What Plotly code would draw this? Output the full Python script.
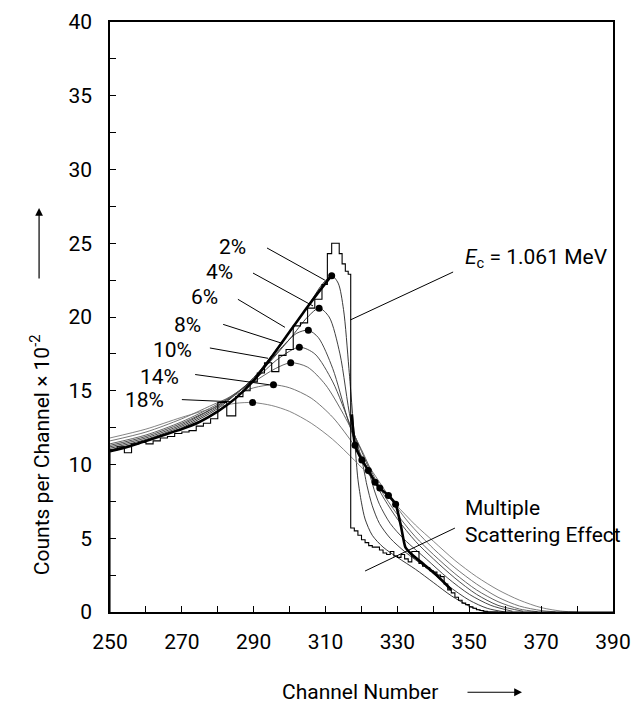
import plotly.graph_objects as go

# ---------------- data ----------------
hist_edges = [250, 252, 254, 256, 258, 260, 262, 264, 266, 268, 270, 272, 274, 276, 278, 280, 282.5, 285, 287, 289,
              291, 293, 295, 297, 299, 301, 303, 305, 307, 309, 310.5, 311.7, 313.8, 314.6, 315.5, 316.3, 317, 318,
              319, 320, 321, 322, 323, 325, 326, 327, 328, 329, 330, 331, 332, 333, 334, 336, 337, 338, 339, 340,
              341, 342, 343, 344, 345, 346, 347, 348, 349, 350, 351, 352, 353, 354, 355, 390]
hist_counts = [11.0, 11.2, 10.8, 11.4, 11.5, 11.4, 11.6, 11.8, 11.9, 12.1, 12.2, 12.3, 12.6, 12.8, 13.1, 14.2, 13.3,
               14.6, 15.0, 15.6, 16.2, 16.9, 16.3, 17.4, 17.8, 19.4, 19.6, 20.6, 21.2, 22.2, 24.3, 25.0, 24.3, 23.6,
               23.1, 22.9, 5.7, 5.5, 5.2, 4.9, 4.7, 4.5, 4.4, 4.2, 4.0, 3.9, 4.1, 3.8, 3.7, 3.9, 3.6, 3.4, 4.1, 3.3,
               3.1, 3.0, 2.8, 2.7, 2.5, 2.4, 1.9, 1.5, 1.3, 1.0, 0.8, 0.6, 0.5, 0.35, 0.25, 0.15, 0.1, 0.05, 0.0, 0.0]

fit_rise_x = [250, 255, 260, 265, 270, 275, 280, 285, 290, 295, 300, 305, 310, 311.7]
fit_rise_y = [10.9, 11.2, 11.6, 12.0, 12.4, 12.9, 13.6, 14.5, 15.7, 17.3, 19.0, 20.7, 22.3, 22.8]
fit_fall_x = [317.3, 318.2, 320.1, 321.9, 323.8, 325.1, 327.5, 329.5, 331.0, 332.2, 334, 337, 340, 343, 345]
fit_fall_y = [13.4, 11.3, 10.3, 9.6, 8.8, 8.4, 7.9, 7.3, 5.8, 4.4, 3.9, 3.3, 2.7, 2.0, 1.5]

curve_labels = ["2%", "4%", "6%", "8%", "10%", "14%", "18%"]
c2_x = [250, 260, 270, 280, 290, 300, 305, 309, 311.7, 313.5, 315, 316.5, 318.2, 319, 320, 321, 323, 326, 330, 335, 340, 345, 350, 354, 358]
c2_y = [11.0, 11.6, 12.5, 13.8, 15.9, 19.0, 20.7, 22.2, 22.8, 22.3, 20.5, 16.5, 11.3, 9.0, 7.4, 6.3, 5.2, 4.4, 3.7, 2.9, 2.0, 1.1, 0.4, 0.05, 0.0]
c4_x = [250, 260, 270, 280, 290, 300, 305, 308.2, 311, 314, 317, 320.1, 321.5, 323, 325, 328, 332, 338, 344, 350, 355, 360]
c4_y = [11.1, 11.7, 12.6, 13.9, 15.8, 18.5, 20.0, 20.6, 20.0, 17.5, 13.0, 10.3, 8.6, 7.2, 6.0, 5.0, 4.1, 3.0, 1.8, 0.8, 0.25, 0.0]
c6_x = [250, 260, 270, 280, 290, 298, 302, 305.2, 308, 312, 316, 319, 321.9, 323.5, 325, 328, 332, 338, 344, 350, 356, 362]
c6_y = [11.2, 11.8, 12.7, 14.0, 15.8, 18.0, 18.9, 19.1, 18.6, 16.5, 13.2, 11.0, 9.6, 8.3, 7.3, 6.0, 4.9, 3.6, 2.3, 1.2, 0.45, 0.05]
c8_x = [250, 260, 270, 280, 290, 297, 302.7, 307, 312, 317, 320, 323.8, 326, 330, 335, 340, 346, 352, 358, 365]
c8_y = [11.3, 11.9, 12.8, 14.0, 15.7, 17.2, 17.95, 17.5, 15.6, 12.6, 10.9, 8.8, 7.8, 6.3, 4.8, 3.6, 2.3, 1.2, 0.45, 0.05]
c10_x = [250, 260, 270, 280, 290, 296, 300.3, 305, 310, 315, 320, 325.1, 330, 335, 340, 346, 352, 358, 364, 369]
c10_y = [11.4, 12.0, 12.9, 14.1, 15.6, 16.5, 16.9, 16.6, 15.4, 13.4, 11.0, 8.4, 6.6, 5.1, 3.9, 2.6, 1.5, 0.7, 0.2, 0.02]
c14_x = [250, 260, 270, 280, 290, 295.5, 300, 306, 312, 318, 322, 327.5, 333, 340, 346, 352, 358, 364, 370, 374]
c14_y = [11.6, 12.2, 13.1, 14.2, 15.2, 15.4, 15.2, 14.5, 13.2, 11.3, 9.9, 7.9, 6.1, 4.3, 3.0, 1.9, 1.0, 0.4, 0.1, 0.01]
c18_x = [250, 260, 270, 280, 285, 289.7, 295, 300, 306, 312, 318, 324, 329.5, 335, 340, 346, 352, 358, 364, 370, 376, 380]
c18_y = [11.8, 12.4, 13.2, 13.9, 14.15, 14.2, 14.0, 13.6, 12.8, 11.7, 10.3, 8.8, 7.3, 5.9, 4.8, 3.5, 2.4, 1.5, 0.8, 0.3, 0.05, 0.0]

peak_x = [311.7, 308.2, 305.2, 302.7, 300.3, 295.5, 289.7]
peak_y = [22.8, 20.6, 19.1, 17.95, 16.9, 15.4, 14.2]
edge_x = [318.2, 320.1, 321.9, 323.8, 325.1, 327.5, 329.5]
edge_y = [11.3, 10.3, 9.6, 8.8, 8.4, 7.9, 7.3]

# label positions (data coords) and leader lines
label_x = [284.2, 280.6, 276.4, 271.7, 267.3, 263.9, 259.7]
label_y = [24.75, 23.05, 21.36, 19.46, 17.76, 15.93, 14.37]
leader_x0 = [293.7, 289.8, 285.6, 281.5, 277.8, 273.7, 270.0]
leader_y0 = [24.68, 22.98, 21.2, 19.5, 17.9, 16.1, 14.4]
leader_x1 = [309.8, 306.5, 298.7, 298.1, 294.0, 294.5, 284.0]
leader_y1 = [22.5, 20.75, 19.3, 18.2, 17.2, 15.4, 14.25]

x_ticks = [250, 270, 290, 310, 330, 350, 370, 390]
y_ticks = [0, 5, 10, 15, 20, 25, 30, 35, 40]

FONT = "Roboto, Liberation Sans, sans-serif"
FS = 21
fig = go.Figure()

curves = [(c2_x, c2_y), (c4_x, c4_y), (c6_x, c6_y), (c8_x, c8_y), (c10_x, c10_y), (c14_x, c14_y), (c18_x, c18_y)]
curve_colors = ["#222", "#2a2a2a", "#333", "#3a3a3a", "#555", "#666", "#777"]
for (cx, cy), lab, col in zip(curves, curve_labels, curve_colors):
    fig.add_trace(go.Scatter(x=cx, y=cy, mode="lines", name=lab,
                             line=dict(color=col, width=0.9, shape="spline", smoothing=0.8),
                             hoverinfo="skip"))

fig.add_trace(go.Scatter(x=[250] + hist_edges, y=[0] + hist_counts, mode="lines",
                         line=dict(color="black", width=1.1, shape="hv"), name="data"))
fig.add_trace(go.Scatter(x=fit_rise_x, y=fit_rise_y, mode="lines",
                         line=dict(color="black", width=2.6, shape="spline", smoothing=0.6), name="fit"))
fig.add_trace(go.Scatter(x=fit_fall_x, y=fit_fall_y, mode="lines",
                         line=dict(color="black", width=2.6, shape="spline", smoothing=0.5), name="fit2"))
fig.add_trace(go.Scatter(x=peak_x + edge_x, y=peak_y + edge_y, mode="markers",
                         marker=dict(color="black", size=7), name="dots"))

ann = []
for lx, ly, lab, x0, y0, x1, y1 in zip(label_x, label_y, curve_labels, leader_x0, leader_y0, leader_x1, leader_y1):
    ann.append(dict(x=lx, y=ly, xref="x", yref="y", text=lab, showarrow=False,
                    font=dict(family=FONT, size=FS, color="black"), xanchor="center", yanchor="middle"))
    fig.add_shape(type="line", x0=x0, y0=y0, x1=x1, y1=y1, xref="x", yref="y",
                  line=dict(color="black", width=1))

# Ec annotation
ann.append(dict(x=348.2, y=24.0, xref="x", yref="y", text="<i>E</i><sub>c</sub> = 1.061 MeV", showarrow=False,
                font=dict(family=FONT, size=FS, color="black"), xanchor="left", yanchor="middle"))
fig.add_shape(type="line", x0=345.5, y0=23.05, x1=316.9, y1=19.8, xref="x", yref="y",
              line=dict(color="black", width=1))
ann.append(dict(x=348.2, y=6.15, xref="x", yref="y", text="Multiple<br>Scattering Effect", showarrow=False,
                align="left", font=dict(family=FONT, size=FS, color="black"), xanchor="left", yanchor="middle"))
fig.add_shape(type="line", x0=346.0, y0=5.69, x1=321.0, y1=2.78, xref="x", yref="y",
              line=dict(color="black", width=1))

# axis titles with arrows
ann.append(dict(x=-0.139, y=0.266, xref="paper", yref="paper", text="Counts per Channel × 10<sup>-2</sup>",
                showarrow=False, textangle=-90, font=dict(family=FONT, size=FS, color="black"),
                xanchor="center", yanchor="middle"))
ann.append(dict(x=-0.141, y=(612 - 208) / 590, xref="paper", yref="paper", text="", showarrow=True,
                ax=0, ay=72, arrowhead=2, arrowsize=1.3, arrowwidth=1.2, arrowcolor="black"))
ann.append(dict(x=(360 - 110) / 503, y=-0.136, xref="paper", yref="paper", text="Channel Number", showarrow=False,
                font=dict(family=FONT, size=FS, color="black"), xanchor="center", yanchor="middle"))
ann.append(dict(x=(522 - 110) / 503, y=-0.136, xref="paper", yref="paper", text="", showarrow=True,
                ax=-56, ay=0, arrowhead=2, arrowsize=1.3, arrowwidth=1.2, arrowcolor="black"))

fig.update_layout(
    width=633, height=707,
    margin=dict(l=110, r=20, t=22, b=95),
    paper_bgcolor="white", plot_bgcolor="white",
    showlegend=False,
    annotations=ann,
    font=dict(family=FONT, size=FS, color="black"),
)
fig.update_xaxes(range=[250, 390], tickvals=x_ticks, ticks="inside", ticklen=6, tickwidth=1, tickcolor="black",
                 minor=dict(dtick=10, tick0=250, ticks="inside", ticklen=6, tickcolor="black"),
                 showline=True, linecolor="black", linewidth=1.5, mirror=True, showgrid=False, zeroline=False,
                 tickfont=dict(family=FONT, size=FS, color="black"), ticklabelstandoff=10, automargin=False)
fig.update_yaxes(range=[0, 40], tickvals=y_ticks, ticks="inside", ticklen=6, tickwidth=1, tickcolor="black",
                 minor=dict(dtick=2.5, tick0=0, ticks="inside", ticklen=6, tickcolor="black"),
                 showline=True, linecolor="black", linewidth=1.5, mirror=True, showgrid=False, zeroline=False,
                 tickfont=dict(family=FONT, size=FS, color="black"), ticklabelstandoff=12, automargin=False)

# remove the browser's default page margin so the 633x707 figure fills the window exactly
fig.write_html("out.html", config={"displayModeBar": False},
               post_script="document.body.style.margin='0';document.body.style.overflow='hidden';")
